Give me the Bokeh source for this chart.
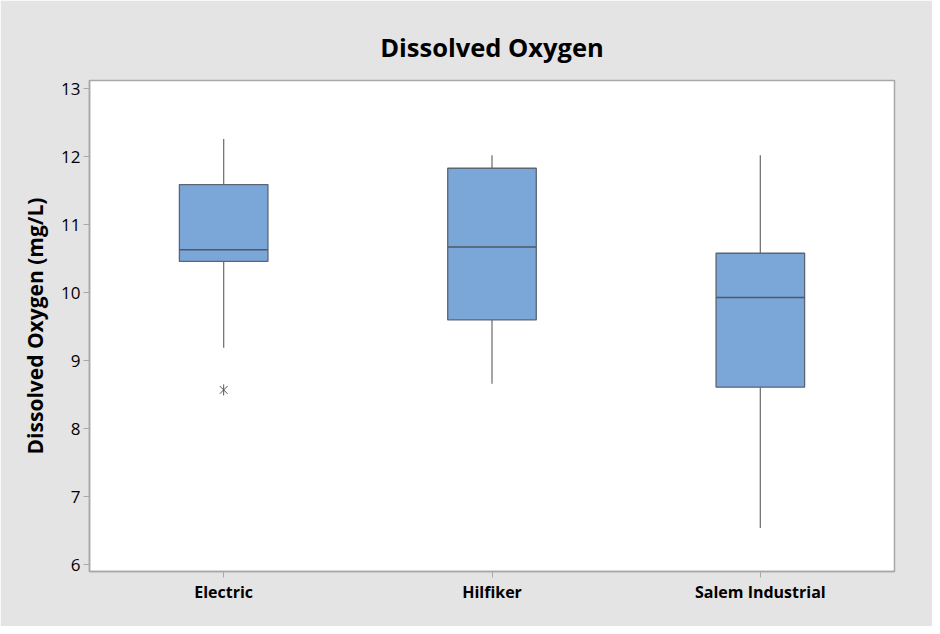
from bokeh.plotting import figure
from bokeh.models import ColumnDataSource, FactorRange, Range1d, FixedTicker
from bokeh.transform import dodge
from bokeh.embed import file_html
from bokeh.resources import INLINE

categories = ["Electric", "Hilfiker", "Salem Industrial"]
q1 = [10.46, 9.60, 8.61]
median = [10.63, 10.67, 9.93]
q3 = [11.59, 11.83, 10.58]
whisker_low = [9.19, 8.66, 6.54]
whisker_high = [12.26, 12.02, 12.02]
outlier_cat = ["Electric"]
outlier_val = [8.57]
y_ticks = [6, 7, 8, 9, 10, 11, 12, 13]

FONT = "Open Sans"
BOX_W = 0.33

src = ColumnDataSource(dict(cat=categories, q1=q1, med=median, q3=q3,
                            lo=whisker_low, hi=whisker_high))
osrc = ColumnDataSource(dict(cat=outlier_cat, val=outlier_val))

p = figure(width=932, height=626, output_backend="svg", toolbar_location=None,
           x_range=FactorRange(*categories, range_padding=0),
           y_range=Range1d(5.9, 13.12),
           min_border_left=89, min_border_right=38, min_border_top=80, min_border_bottom=55)

p.background_fill_color = "white"
p.border_fill_color = "#e4e4e4"
p.outline_line_color = "#a8a8a8"
p.outline_line_width = 1.5
p.xgrid.visible = False
p.ygrid.visible = False

p.title.text = "Dissolved Oxygen"
p.title.align = "center"
p.title.text_font = FONT
p.title.text_font_size = "25.5px"
p.title.text_font_style = "bold"
p.title.text_color = "black"
p.title.standoff = 33

# whiskers
p.segment(x0="cat", y0="q3", x1="cat", y1="hi", source=src, line_color="#757575", line_width=1.3)
p.segment(x0="cat", y0="q1", x1="cat", y1="lo", source=src, line_color="#757575", line_width=1.3)
# boxes
p.vbar(x="cat", top="q3", bottom="q1", width=BOX_W, source=src,
       fill_color="#7ba6d8", line_color="#5b6573", line_width=1.3)
# medians
p.segment(x0=dodge("cat", -BOX_W / 2, range=p.x_range), y0="med",
          x1=dodge("cat", BOX_W / 2, range=p.x_range), y1="med",
          source=src, line_color="#4f5966", line_width=1.5)
# outlier
p.scatter(x="cat", y="val", source=osrc, marker="x", size=11, line_color="#555555", line_width=1)
p.scatter(x="cat", y="val", source=osrc, marker="dash", angle=1.5708, size=11, line_color="#555555", line_width=1)

for ax in (p.xaxis[0], p.yaxis[0]):
    ax.axis_line_color = "#a8a8a8"
    ax.axis_line_width = 1.5
    ax.major_tick_line_color = "#a8a8a8"
    ax.major_tick_out = 6
    ax.major_tick_in = 0
    ax.minor_tick_line_color = None
    ax.major_label_text_font = FONT
    ax.major_label_text_color = "black"

p.yaxis.ticker = FixedTicker(ticks=y_ticks)
p.yaxis.major_label_text_font_size = "17px"
p.yaxis.major_label_standoff = 3
p.yaxis.axis_label = "Dissolved Oxygen (mg/L)"
p.yaxis.axis_label_text_font = FONT
p.yaxis.axis_label_text_font_size = "21px"
p.yaxis.axis_label_text_font_style = "bold"
p.yaxis.axis_label_text_color = "black"
p.yaxis.axis_label_standoff = 9

p.xaxis.major_label_text_font_size = "16px"
p.xaxis.major_label_text_font_style = "bold"
p.xaxis.major_label_standoff = 3

open("out.html", "w").write(file_html(p, INLINE))
